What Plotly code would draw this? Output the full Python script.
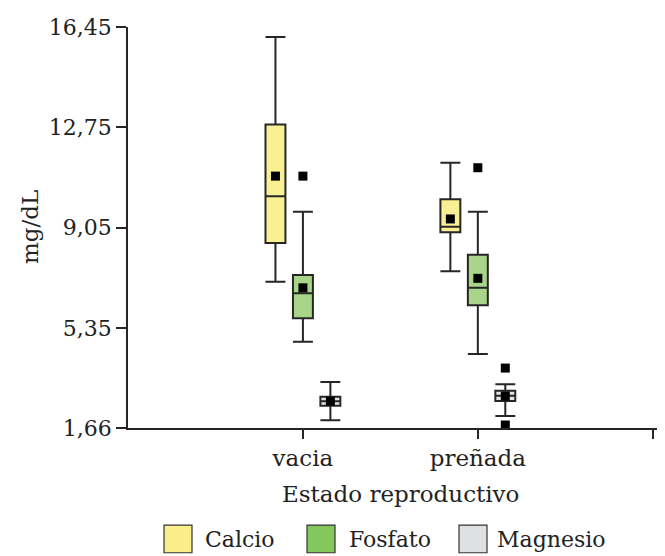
import plotly.graph_objects as go

categories = ["vacia", "preñada"]
series = ["Calcio", "Fosfato", "Magnesio"]

calcio_q1 = [8.48, 8.88]
calcio_median = [10.21, 9.08]
calcio_q3 = [12.85, 10.10]
calcio_lower = [7.05, 7.44]
calcio_upper = [16.08, 11.44]
calcio_mean = [10.95, 9.37]
calcio_outliers = [[], []]

fosfato_q1 = [5.71, 6.19]
fosfato_median = [6.63, 6.83]
fosfato_q3 = [7.30, 8.05]
fosfato_lower = [4.84, 4.39]
fosfato_upper = [9.64, 9.64]
fosfato_mean = [6.83, 7.18]
fosfato_outliers = [[10.95], [11.26]]

magnesio_q1 = [2.48, 2.66]
magnesio_median = [2.65, 2.85]
magnesio_q3 = [2.81, 3.03]
magnesio_lower = [1.95, 2.10]
magnesio_upper = [3.36, 3.27]
magnesio_mean = [2.65, 2.84]
magnesio_outliers = [[], [3.87, 1.77]]

y_ticks = [1.66, 5.35, 9.05, 12.75, 16.45]
y_ticktext = ["1,66", "5,35", "9,05", "12,75", "16,45"]

box_colors = ["#f8f093", "#a9d58b", "#e2e3e5"]
legend_colors = ["#f9ee8a", "#84c75c", "#dfe0e2"]
FONT = "DejaVu Serif"
LINE = "#262626"
TXT = "#222222"

data = [
    (calcio_q1, calcio_median, calcio_q3, calcio_lower, calcio_upper, calcio_mean, calcio_outliers),
    (fosfato_q1, fosfato_median, fosfato_q3, fosfato_lower, fosfato_upper, fosfato_mean, fosfato_outliers),
    (magnesio_q1, magnesio_median, magnesio_q3, magnesio_lower, magnesio_upper, magnesio_mean, magnesio_outliers),
]

offsets = [-0.157, 0.0, 0.157]
box_w = 0.114

fig = go.Figure()
for si, (q1, med, q3, lo, up, mean, outl) in enumerate(data):
    xs = [ci + 1 + offsets[si] for ci in range(len(categories))]
    fig.add_trace(go.Box(
        x=xs, q1=q1, median=med, q3=q3, lowerfence=lo, upperfence=up,
        width=box_w, whiskerwidth=1, fillcolor=box_colors[si],
        line=dict(color=LINE, width=2), boxpoints=False, name=series[si],
        showlegend=False, hoverinfo="skip",
    ))
    fig.add_trace(go.Scatter(
        x=xs, y=mean, mode="markers",
        marker=dict(symbol="square", size=9, color="black"),
        showlegend=False, hoverinfo="skip",
    ))
    ox, oy = [], []
    for ci, vals in enumerate(outl):
        for v in vals:
            ox.append(xs[ci])
            oy.append(v)
    if ox:
        fig.add_trace(go.Scatter(
            x=ox, y=oy, mode="markers",
            marker=dict(symbol="square", size=9, color="black"),
            showlegend=False, hoverinfo="skip",
        ))

OFF = 8  # default page body margin
W, H = 665 - OFF, 556 - OFF
L, R, T, B = 120, 7, 15, 128
pw, ph = W - L - R, H - T - B


def px(x):
    return (x - OFF - L) / pw


def py(y):
    return (H - B - (y - OFF)) / ph


shapes = []
annotations = []
legend_sq = [164, 307, 459]
legend_tx = [203, 347, 495]
for i, name in enumerate(series):
    shapes.append(dict(type="rect", xref="paper", yref="paper",
                       x0=px(legend_sq[i]), x1=px(legend_sq[i] + 28),
                       y0=py(554), y1=py(526),
                       fillcolor=legend_colors[i], line=dict(color="#333333", width=1.2)))
    annotations.append(dict(text=name, xref="paper", yref="paper",
                            x=px(legend_tx[i]), y=py(541), xanchor="left", yanchor="middle",
                            showarrow=False, font=dict(family=FONT, size=22, color=TXT)))

annotations.append(dict(text="Estado reproductivo", xref="paper", yref="paper",
                        x=px(400), y=py(495), xanchor="center", yanchor="middle",
                        showarrow=False, font=dict(family=FONT, size=23, color=TXT)))
annotations.append(dict(text="mg/dL", xref="paper", yref="paper",
                        x=px(30), y=py(225), xanchor="center", yanchor="middle", textangle=-90,
                        showarrow=False, font=dict(family=FONT, size=23, color=TXT)))

fig.update_layout(
    width=W, height=H,
    margin=dict(l=L, r=R, t=T, b=B),
    paper_bgcolor="white", plot_bgcolor="white",
    showlegend=False,
    shapes=shapes, annotations=annotations,
    font=dict(family=FONT, size=23, color=TXT),
)
fig.update_xaxes(
    range=[0, 3.03], tickvals=[1, 2, 3], ticktext=categories + [""],
    showline=True, linecolor=LINE, linewidth=1.5, ticks="outside", ticklen=9,
    tickcolor=LINE, tickwidth=1.5, showgrid=False, zeroline=False,
    tickfont=dict(family=FONT, size=23, color=TXT),
)
fig.update_yaxes(
    range=[1.66, 16.45], tickvals=y_ticks, ticktext=y_ticktext,
    showline=True, linecolor=LINE, linewidth=1.5, ticks="outside", ticklen=10,
    tickcolor=LINE, tickwidth=1.5, showgrid=False, zeroline=False,
    tickfont=dict(family=FONT, size=22, color=TXT),
)

fig.write_html("out.html")
